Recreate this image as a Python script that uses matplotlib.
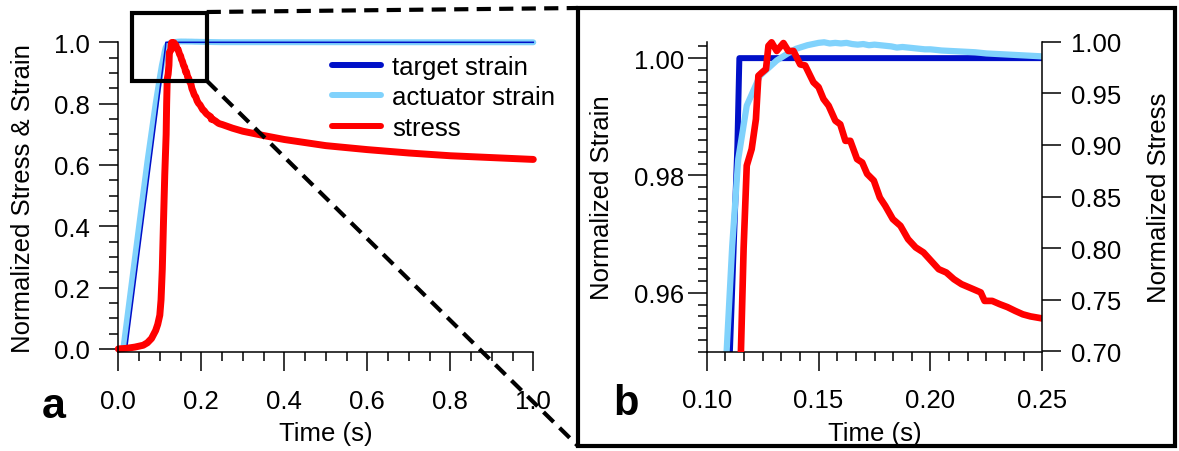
import matplotlib
matplotlib.use("Agg")
import matplotlib.pyplot as plt
from matplotlib.lines import Line2D
from matplotlib.patches import Rectangle
from matplotlib.ticker import MultipleLocator, AutoMinorLocator, FormatStrFormatter

plt.rcParams['font.family'] = ['Liberation Sans', 'DejaVu Sans']

# ---- data ----
target_t = [0.0, 0.02, 0.1137, 0.1146, 1.0]
target_v = [0.0, 0.0, 0.985, 1.0, 1.0]

act_t = [0.0, 0.012, 0.03, 0.05, 0.07, 0.09, 0.10, 0.105, 0.1089, 0.1114, 0.1141,
         0.1179, 0.1238, 0.1313, 0.135, 0.1375, 0.14, 0.1425, 0.145, 0.1475, 0.15,
         0.1525, 0.155, 0.1575, 0.16, 0.1625, 0.165, 0.1675, 0.17, 0.1725, 0.175,
         0.1775, 0.18, 0.1825, 0.185, 0.1875, 0.19, 0.1925, 0.195, 0.1975, 0.20,
         0.205, 0.21, 0.215, 0.22, 0.225, 0.23, 0.235, 0.24, 0.245, 0.25, 1.0]
act_v = [0.0, 0.0, 0.19, 0.40, 0.61, 0.80, 0.885, 0.925, 0.95, 0.968, 0.9828,
         0.9919, 0.997, 0.9996, 1.0005, 1.0011, 1.0016, 1.0019, 1.0022, 1.0024, 1.0026,
         1.0027, 1.0025, 1.0026, 1.0025, 1.0026, 1.0024, 1.0023, 1.0024, 1.0022, 1.0023,
         1.0022, 1.0021, 1.0020, 1.0018, 1.0019, 1.0018, 1.0017, 1.0016, 1.0015, 1.0015,
         1.0013, 1.0012, 1.0011, 1.0010, 1.0008, 1.0007, 1.0006, 1.0005, 1.0004, 1.0003, 1.0]

stress_t = [0.0, 0.02, 0.04, 0.06, 0.07, 0.08, 0.09, 0.095, 0.10, 0.103, 0.106, 0.109,
            0.112, 0.1153, 0.1165, 0.1179, 0.1201, 0.122, 0.1231, 0.1246, 0.1265, 0.1276,
            0.129, 0.1313, 0.1343, 0.1365, 0.1388, 0.1418, 0.144, 0.1477, 0.15, 0.1522,
            0.1545, 0.1575, 0.1597, 0.162, 0.1642, 0.1672, 0.1695, 0.1717, 0.1747, 0.1774,
            0.1798, 0.1832, 0.1866, 0.19, 0.1934, 0.1969, 0.2003, 0.2037, 0.2071, 0.2105,
            0.2139, 0.2191, 0.2225, 0.2242, 0.2276, 0.231, 0.2344, 0.2379, 0.2413, 0.2447,
            0.25, 0.275, 0.30, 0.35, 0.40, 0.50, 0.60, 0.70, 0.80, 0.90, 1.0]
stress_v = [0.0, 0.002, 0.006, 0.012, 0.02, 0.034, 0.06, 0.08, 0.11, 0.16, 0.26, 0.42,
            0.57, 0.70, 0.80, 0.88, 0.896, 0.925, 0.967, 0.970, 0.9735, 0.996,
            0.9994, 0.991, 0.9987, 0.991, 0.991, 0.978, 0.977, 0.9607, 0.956, 0.9445,
            0.938, 0.9235, 0.920, 0.904, 0.904, 0.8863, 0.883, 0.872, 0.8655, 0.849,
            0.8411, 0.8282, 0.8217, 0.8088, 0.8008, 0.7959, 0.7878, 0.7797, 0.7765, 0.770,
            0.7652, 0.7604, 0.7572, 0.749, 0.749, 0.7458, 0.743, 0.7393, 0.736, 0.734,
            0.732, 0.720, 0.710, 0.696, 0.683, 0.663, 0.650, 0.639, 0.630, 0.624, 0.618]

DARK = "#0010c8"
LIGHT = "#80d2fc"
RED = "#ff0000"
FS = 18.5

W, H = 1179, 452


def fx(px):
    return px / W


def fy(py):
    return 1 - py / H


fig = plt.figure(figsize=(W / 100, H / 100), dpi=100)

# -------- panel a --------
axa = fig.add_axes([fx(118.3), fy(353.3), (533.3 - 118.3) / W, (353.3 - 43.3) / H])
axa.plot(act_t, act_v, color=LIGHT, lw=4.3, clip_on=False, solid_capstyle='round')
axa.plot(target_t, target_v, color=DARK, lw=1.1, clip_on=False)
axa.plot(stress_t, stress_v, color=RED, lw=5, clip_on=False, solid_capstyle='round')
axa.set_xlim(0, 1)
axa.set_ylim(-0.011, 1.0)
for s in ['top', 'right']:
    axa.spines[s].set_visible(False)
axa.xaxis.set_major_locator(MultipleLocator(0.2))
axa.xaxis.set_minor_locator(AutoMinorLocator(4))
axa.yaxis.set_major_locator(MultipleLocator(0.2))
axa.yaxis.set_minor_locator(AutoMinorLocator(4))
axa.xaxis.set_major_formatter(FormatStrFormatter('%.1f'))
axa.yaxis.set_major_formatter(FormatStrFormatter('%.1f'))
axa.set_xlabel("Time (s)", fontsize=FS, labelpad=6)
axa.set_ylabel("Normalized Stress & Strain", fontsize=FS, labelpad=14)

handles = [Line2D([], [], color=DARK, lw=4.3, solid_capstyle='round'),
           Line2D([], [], color=LIGHT, lw=4.3, solid_capstyle='round'),
           Line2D([], [], color=RED, lw=4.3, solid_capstyle='round')]
axa.legend(handles, ["target strain", "actuator strain", "stress"], loc='upper left',
           bbox_to_anchor=(0.515, 0.96), frameon=False, fontsize=FS, handlelength=1.9,
           handletextpad=0.45, labelspacing=0.25, borderpad=0, borderaxespad=0)

# -------- panel b --------
axb = fig.add_axes([fx(706.7), fy(352.5), (1042.3 - 706.7) / W, (352.5 - 42.7) / H])
axb2 = axb.twinx()
clip_b = Rectangle((0, 0), 1, 1.08, transform=axb.transAxes)
l1, = axb.plot(target_t, target_v, color=DARK, lw=4.3)
l2, = axb.plot(act_t, act_v, color=LIGHT, lw=4.5)
l3, = axb2.plot(stress_t, stress_v, color=RED, lw=4.8)
for ln in (l1, l2, l3):
    ln.set_clip_path(clip_b)
axb.set_xlim(0.10, 0.25)
axb.set_ylim(0.95, 1.0028)
axb2.set_ylim(0.70, 1.00)
axb.spines['top'].set_visible(False)
axb.spines['right'].set_visible(False)
axb2.spines['top'].set_visible(False)
axb2.spines['left'].set_visible(False)
axb2.spines['bottom'].set_visible(False)
axb.xaxis.set_major_locator(MultipleLocator(0.05))
axb.xaxis.set_minor_locator(AutoMinorLocator(6))
axb.yaxis.set_major_locator(MultipleLocator(0.02))
axb.yaxis.set_minor_locator(AutoMinorLocator(10))
axb2.yaxis.set_major_locator(MultipleLocator(0.05))
axb.xaxis.set_major_formatter(FormatStrFormatter('%.2f'))
axb.yaxis.set_major_formatter(FormatStrFormatter('%.2f'))
axb2.yaxis.set_major_formatter(FormatStrFormatter('%.2f'))
axb.set_xlabel("Time (s)", fontsize=FS, labelpad=6)
axb.set_ylabel("Normalized Strain", fontsize=FS, labelpad=14)
axb2.set_ylabel("Normalized Stress", fontsize=FS, labelpad=19)

for ax in (axa, axb, axb2):
    for s in ax.spines.values():
        s.set_linewidth(1.1)
    ax.tick_params(which='major', direction='out', length=13.5, width=1.1,
                   labelsize=FS, pad=7)
    ax.tick_params(which='minor', direction='out', length=6.5, width=1.1)
axa.tick_params(axis='x', which='major', pad=13)
axb.tick_params(axis='x', which='major', pad=13)
axb.tick_params(axis='y', which='major', pad=3)
axb2.tick_params(axis='y', which='minor', length=0)

# -------- zoom box, connector lines, frame --------
fig.add_artist(Rectangle((fx(131.7), fy(81.7)), (206.7 - 131.7) / W, (81.7 - 14) / H,
                         transform=fig.transFigure, fill=False, lw=3, ec='black'))
fig.add_artist(Rectangle((fx(578), fy(447)), (1175 - 578) / W, (447 - 9) / H,
                         transform=fig.transFigure, fill=False, lw=3, ec='black'))
fig.add_artist(Line2D([fx(206.7), fx(578)], [fy(13), fy(9)], transform=fig.transFigure,
                      color='black', lw=3, dashes=(3.4, 2.0)))
fig.add_artist(Line2D([fx(206.7), fx(578)], [fy(81.7), fy(447)], transform=fig.transFigure,
                      color='black', lw=3, dashes=(3.4, 2.0)))

fig.text(fx(54), fy(407), "a", fontsize=31, fontweight='bold', ha='center', va='center')
fig.text(fx(626), fy(404), "b", fontsize=30, fontweight='bold', ha='center', va='center')

fig.savefig("out.png", dpi=100)
